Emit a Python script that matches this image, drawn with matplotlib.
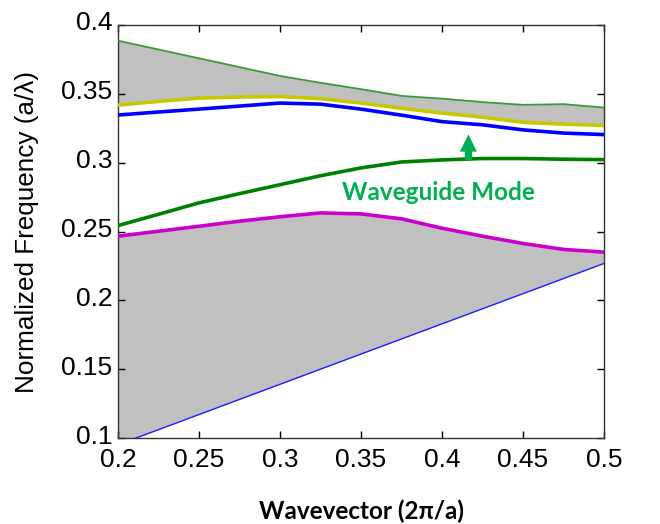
import matplotlib
matplotlib.use("Agg")
import matplotlib.pyplot as plt
import matplotlib.transforms as mtransforms
import numpy as np

# Wavevector grid (2*pi/a)
k = [0.2, 0.225, 0.25, 0.275, 0.3, 0.325, 0.35, 0.375, 0.4, 0.425, 0.45, 0.475, 0.5]

# Upper continuum: top edge (green) and bottom edge (yellow)
upper_top = [0.3886, 0.3822, 0.3758, 0.3694, 0.3630, 0.3580, 0.3534, 0.3485, 0.3465, 0.3440, 0.3420, 0.3425, 0.3400]
upper_bottom = [0.3418, 0.3445, 0.3469, 0.3477, 0.3480, 0.3465, 0.3433, 0.3395, 0.3360, 0.3330, 0.3293, 0.3280, 0.3270]
# Blue band below the upper continuum
blue_band = [0.3346, 0.3368, 0.3389, 0.3411, 0.3433, 0.3425, 0.3389, 0.3345, 0.3298, 0.3275, 0.3238, 0.3215, 0.3204]
# Waveguide mode
waveguide = [0.2543, 0.2625, 0.2708, 0.2775, 0.2840, 0.2905, 0.2962, 0.3005, 0.3020, 0.3030, 0.3030, 0.3025, 0.3022]
# Lower continuum top edge (magenta)
lower_top = [0.2466, 0.2502, 0.2538, 0.2575, 0.2607, 0.2635, 0.2628, 0.2592, 0.2524, 0.2466, 0.2413, 0.2370, 0.2350]
# Light line (lower edge of lower continuum)
light_k = [0.2, 0.35, 0.5]
light_f = [0.0951, 0.1610, 0.2268]

xticks = [0.2, 0.25, 0.3, 0.35, 0.4, 0.45, 0.5]
xtick_labels = ["0.2", "0.25", "0.3", "0.35", "0.4", "0.45", "0.5"]
yticks = [0.1, 0.15, 0.2, 0.25, 0.3, 0.35, 0.4]
ytick_labels = ["0.1", "0.15", "0.2", "0.25", "0.3", "0.35", "0.4"]

GRAY = "#c0c0c0"
ACCENT = "#00b050"

fig = plt.figure(figsize=(6.6, 5.24), dpi=100)
ax = fig.add_axes([0.1788, 0.1641, 0.7364, 0.7882])

light_interp = np.interp(k, light_k, light_f)
ax.fill_between(k, light_interp, lower_top, color=GRAY, lw=0, zorder=1)
ax.fill_between(k, upper_bottom, upper_top, color=GRAY, lw=0, zorder=1)

ax.plot(k, upper_top, color="#3a9a3a", lw=1.3, zorder=3)
ax.plot(k, upper_bottom, color="#c8c800", lw=2.6, zorder=3)
ax.plot(k, blue_band, color="#0000ff", lw=2.6, zorder=3)
ax.plot(k, waveguide, color="#008000", lw=2.6, zorder=3)
ax.plot(k, lower_top, color="#cc00cc", lw=2.6, zorder=3)
ax.plot(light_k, light_f, color="#2020ff", lw=1.0, zorder=3)

ax.arrow(0.4163, 0.3017, 0, 0.0186 - 0.0123, width=0.0045, head_width=0.0105,
         head_length=0.0125, length_includes_head=False, color=ACCENT, lw=0, zorder=4)
ax.text(0.398, 0.2780, "Waveguide Mode", color=ACCENT, fontsize=17.5,
        fontweight="bold", family="Lato", ha="center", va="center", zorder=5)

ax.set_xlim(0.2, 0.5)
ax.set_ylim(0.1, 0.4)
ax.set_xticks(xticks)
ax.set_xticklabels(xtick_labels)
ax.set_yticks(yticks)
ax.set_yticklabels(ytick_labels)
ax.tick_params(direction="in", top=True, right=True, length=5, width=1,
               labelsize=19)
ax.tick_params(axis="x", pad=7)
ax.tick_params(axis="y", pad=4)
for lab in ax.get_xticklabels() + ax.get_yticklabels():
    lab.set_family("Liberation Sans")
shift_up = mtransforms.ScaledTranslation(0, 4 / 100, fig.dpi_scale_trans)
for lab in ax.get_yticklabels():
    lab.set_transform(lab.get_transform() + shift_up)
for s in ax.spines.values():
    s.set_linewidth(1.0)
    s.set_color("#333333")

ax.set_xlabel("Wavevector (2π/a)", fontsize=17.5, fontweight="bold", family="Lato")
ax.set_ylabel("Normalized Frequency (a/λ)", fontsize=18.8, family="Liberation Sans")
ax.xaxis.set_label_coords(0.5, -0.148)
ax.yaxis.set_label_coords(-0.162, 0.5)

fig.savefig("out.png", dpi=100)
